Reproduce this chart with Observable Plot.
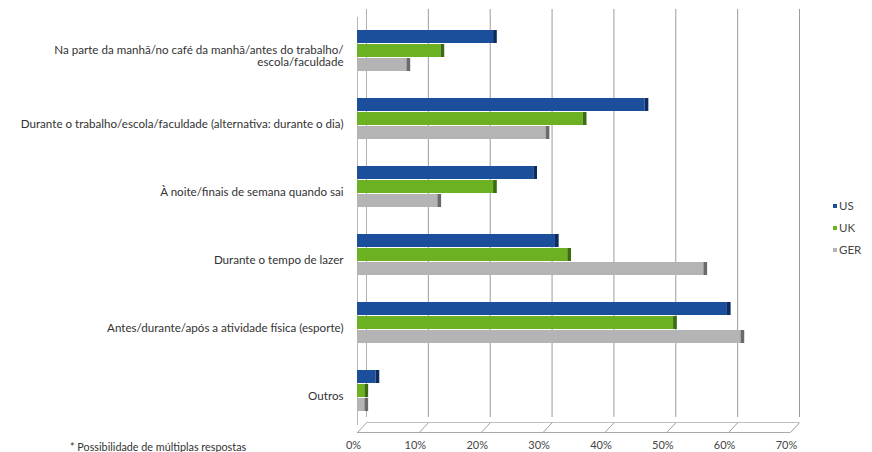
<!DOCTYPE html>
<html>
<head>
<meta charset="utf-8">
<script src="https://cdn.jsdelivr.net/npm/d3@7"></script>
<script src="https://cdn.jsdelivr.net/npm/@observablehq/plot@0.6"></script>
<style>
  html, body { margin: 0; padding: 0; background: #fff; }
  #wrap { position: relative; width: 872px; height: 452px; overflow: hidden; font-family: Lato, "Open Sans", sans-serif; }
  #main, #floor { position: absolute; left: 0; }
  #main { top: 0; }
  #floor { top: 420px; }
  #legend { position: absolute; left: 833px; top: 195px; font-size: 11.5px; color: #444; line-height: 22px; }
  #legend span.sw { display: inline-block; width: 4px; height: 4px; margin-right: 2px; vertical-align: middle; position: relative; top: -1px; }
  #note { position: absolute; left: 70px; top: 440px; font-size: 10.8px; color: #333; }
</style>
</head>
<body>
<div id="wrap">
  <div id="main"></div>
  <div id="floor"></div>
  <div id="legend"></div>
  <div id="note">* Possibilidade de múltiplas respostas</div>
</div>
<script>
const categories = [
  "Na parte da manhã/no café da manhã/antes do trabalho/escola/faculdade",
  "Durante o trabalho/escola/faculdade (alternativa: durante o dia)",
  "À noite/finais de semana quando sai",
  "Durante o tempo de lazer",
  "Antes/durante/após a atividade física (esporte)",
  "Outros"
];
const countries = ["US", "UK", "GER"];
const usValues  = [22, 46.5, 28.5, 32, 59.8, 3];
const ukValues  = [13.5, 36.5, 22, 34, 51.1, 1.2];
const gerValues = [8, 30.5, 13, 56, 62, 1.2];
const xTicks = [0, 10, 20, 30, 40, 50, 60, 70];
const barColors = {US: "#1c4f9b", UK: "#6cb122", GER: "#b4b4b4"};
const capColors = {US: "#0c2c60", UK: "#3b6c10", GER: "#6a6a6a"};
const topColors = {US: "#7fa6dc", UK: "#c0e494", GER: "#e2e2e2"};

const series = {US: usValues, UK: ukValues, GER: gerValues};
const data = [];
categories.forEach((c, i) => countries.forEach(k => data.push({cat: c, country: k, value: series[k][i]})));

const fmtCat = d => d.startsWith("Na parte") ? d.replace("trabalho/escola", "trabalho/\nescola") : d;

const marks = [
  Plot.ruleX(xTicks.slice(1), {dx: 9, dy: -8, stroke: "#9c9c9c", strokeWidth: 1}),
  Plot.ruleX([0], {dx: 9, dy: -8, stroke: "#b0b0b0"}),
  Plot.ruleX([0], {stroke: "#b8b8b8"}),
  Plot.axisFy({anchor: "left", tickSize: 0, tickPadding: 14, dy: 5, fontSize: 11.6, fill: "#333", tickFormat: fmtCat, label: null})
];
for (const k of countries) {
  const sub = data.filter(d => d.country === k);
  marks.push(Plot.barX(sub, {fy: "cat", y: "country", x1: 0, x2: "value", fill: barColors[k]}));
  marks.push(Plot.barX(sub, {fy: "cat", y: "country", x1: "value", x2: d => d.value + 0.6, fill: capColors[k]}));
  marks.push(Plot.barX(sub, {fy: "cat", y: "country", x1: 0, x2: "value", fill: topColors[k], insetTop: 1, insetBottom: 12}));
}

const main = Plot.plot({
  width: 872,
  height: 452,
  marginTop: 16,
  marginBottom: 27,
  marginLeft: 357,
  marginRight: 82,
  style: {fontFamily: "Lato, 'Open Sans', sans-serif", background: "transparent"},
  x: {domain: [0, 70], axis: null},
  y: {domain: countries, paddingInner: 0.05, paddingOuter: 0.8, axis: null},
  fy: {domain: categories, padding: 0, axis: null},
  marks
});
document.getElementById("main").appendChild(main);

const floor = Plot.plot({
  width: 872,
  height: 32,
  marginTop: 2,
  marginBottom: 20,
  marginLeft: 357,
  marginRight: 82,
  style: {fontFamily: "Lato, 'Open Sans', sans-serif", background: "transparent", overflow: "visible"},
  x: {domain: [0, 70]},
  y: {domain: [0, 1], axis: null},
  marks: [
    Plot.ruleY([0], {x1: 0, x2: 70, stroke: "#a8a8a8"}),
    Plot.ruleY([1], {x1: 1.5, x2: 71.5, stroke: "#c0c0c0"}),
    Plot.link(xTicks, {x1: d => d, y1: 0, x2: d => d + 1.5, y2: 1, stroke: "#a0a0a0"}),
    Plot.axisX(xTicks, {anchor: "bottom", tickSize: 0, tickPadding: 9, dx: -4, fontSize: 11, fill: "#444", tickFormat: d => d + "%", label: null})
  ]
});
document.getElementById("floor").appendChild(floor);

const legend = document.getElementById("legend");
for (const k of countries) {
  const row = document.createElement("div");
  row.innerHTML = `<span class="sw" style="background:${barColors[k]}"></span>${k}`;
  legend.appendChild(row);
}
</script>
</body>
</html>
